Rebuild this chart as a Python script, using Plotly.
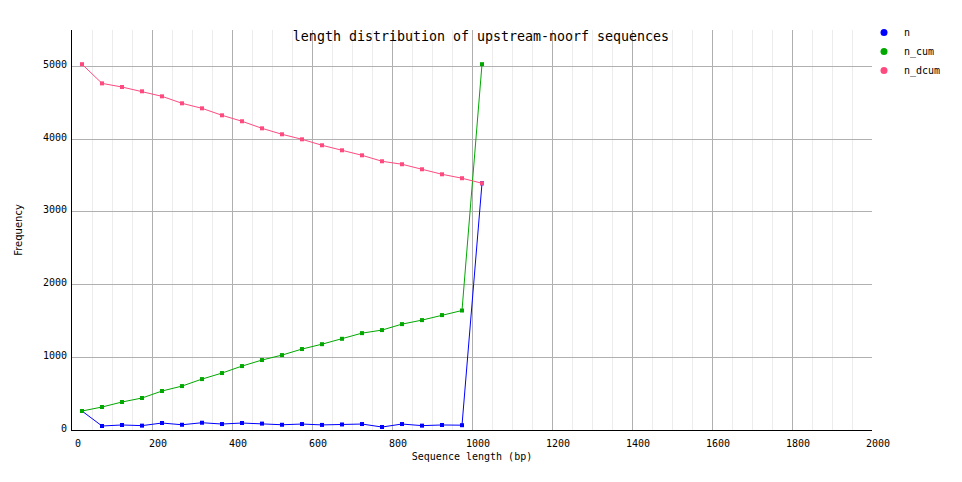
import plotly.graph_objects as go

# Data
lengths = [25, 75, 125, 175, 225, 275, 325, 375, 425, 475, 525,
           575, 625, 675, 725, 775, 825, 875, 925, 975, 1025]
n = [261, 55, 69, 60, 96, 72, 100, 82, 96, 88, 72,
     82, 70, 76, 82, 41, 82, 60, 69, 66, 3393]
n_cum = [261, 316, 385, 440, 536, 604, 700, 783, 879, 962, 1030,
         1113, 1180, 1254, 1332, 1374, 1456, 1511, 1580, 1643, 5030]
n_dcum = [5030, 4766, 4716, 4657, 4588, 4492, 4423, 4327, 4245, 4148, 4066,
          3997, 3915, 3846, 3777, 3695, 3654, 3585, 3516, 3462, 3393]

series_names = ["n", "n_cum", "n_dcum"]
series_values = [n, n_cum, n_dcum]
colors = ["#0000ff", "#00a800", "#ff4a80"]

x_ticks = [0, 200, 400, 600, 800, 1000, 1200, 1400, 1600, 1800, 2000]
y_ticks = [0, 1000, 2000, 3000, 4000, 5000]

MONO = "DejaVu Sans Mono"

fig = go.Figure()
for name, vals, col in zip(series_names, series_values, colors):
    fig.add_trace(go.Scatter(
        x=lengths, y=vals, mode="lines+markers", name=name,
        line=dict(color=col, width=1),
        marker=dict(color=col, size=4, symbol="square"),
        showlegend=False,
    ))
# legend-only entries (dot markers, as in the reference legend)
for name, col in zip(series_names, colors):
    fig.add_trace(go.Scatter(
        x=[None], y=[None], mode="markers", name=name,
        marker=dict(color=col, size=7, symbol="circle"),
    ))

fig.update_layout(
    width=962, height=482,
    margin=dict(l=72, r=90, t=30, b=52, autoexpand=False),
    paper_bgcolor="white", plot_bgcolor="white",
    font=dict(family=MONO, size=10, color="black"),
    title=dict(text="length distribution of upstream-noorf sequences",
               font=dict(family=MONO, size=13.3, color="black"),
               x=0.5, xref="container", xanchor="center",
               y=1 - 36 / 482, yref="container", yanchor="middle"),
    legend=dict(xref="paper", x=0.99, xanchor="left", yref="paper",
                y=1.03, yanchor="top",
                font=dict(family=MONO, size=10), itemwidth=30,
                tracegroupgap=0, bgcolor="rgba(0,0,0,0)"),
    showlegend=True,
)

fig.update_xaxes(
    range=[0, 2000], tickvals=x_ticks, ticktext=[str(v) for v in x_ticks],
    showgrid=True, gridcolor="#b0b0b0", gridwidth=1,
    minor=dict(dtick=50, showgrid=True, gridcolor="#ececec", gridwidth=1),
    showline=True, linecolor="black", linewidth=1,
    ticks="", zeroline=False, ticklabelshift=6, ticklabelstandoff=4,
    automargin=False,
    title=dict(text="Sequence length (bp)", font=dict(family=MONO, size=10), standoff=4),
)
fig.update_yaxes(
    range=[0, 5500], tickvals=y_ticks, ticktext=[str(v) for v in y_ticks],
    showgrid=True, gridcolor="#b0b0b0", gridwidth=1,
    showline=True, linecolor="black", linewidth=1,
    ticks="", zeroline=False, ticklabelshift=-2, ticklabelstandoff=2,
    automargin=False,
    title=dict(text="Frequency", font=dict(family="DejaVu Sans", size=10), standoff=18),
)

fig.write_html("out.html", config={"displayModeBar": False},
               post_script="document.body.style.margin='0';document.body.style.padding='0';")
